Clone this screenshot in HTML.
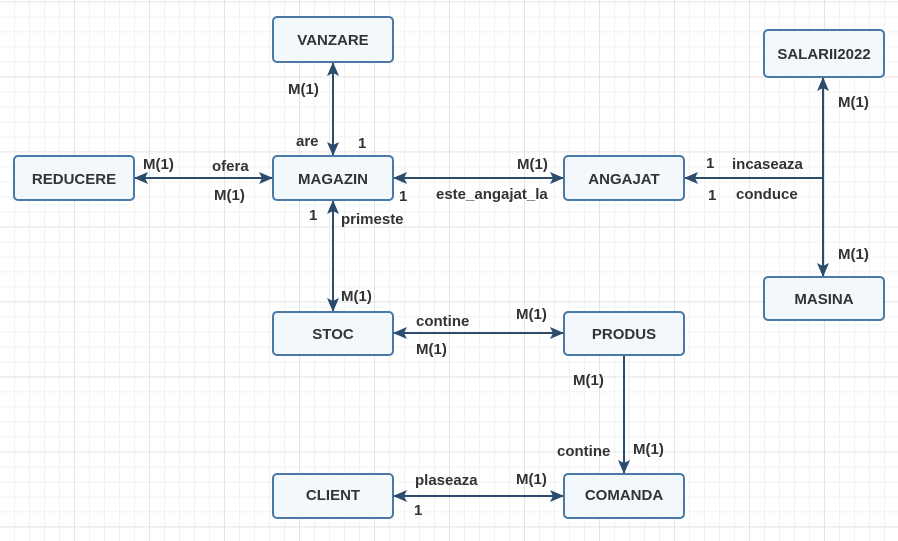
<!DOCTYPE html>
<html><head><meta charset="utf-8"><style>
html,body{margin:0;padding:0;background:#fff}
svg{display:block}
text{font-family:"Liberation Sans",sans-serif;font-weight:bold;font-size:15px;fill:#333}
</style></head><body>
<svg width="898" height="541" xmlns="http://www.w3.org/2000/svg">
<defs>
<pattern id="g" width="15" height="15" patternUnits="userSpaceOnUse" x="14.3" y="1.7">
<path d="M0 0V15M0 0H15" fill="none" stroke="#e6e6e6" stroke-width="1"/>
</pattern>
<pattern id="G" width="75" height="75" patternUnits="userSpaceOnUse" x="74.3" y="1.7">
<path d="M0 0V75M0 0H75" fill="none" stroke="#d4d4d4" stroke-width="1"/>
</pattern>
<marker id="a" viewBox="0 0 14 12" refX="13" refY="6" markerWidth="14" markerHeight="12" markerUnits="userSpaceOnUse" orient="auto-start-reverse">
<path d="M0 0L14 6L0 12L3 6Z" fill="#2b4c6c"/>
</marker>
</defs>
<rect width="898" height="541" fill="url(#g)"/>
<rect width="898" height="541" fill="url(#G)"/>
<g stroke="#2b4c6c" stroke-width="2" fill="none">
<line x1="333" y1="63" x2="333" y2="155" marker-start="url(#a)" marker-end="url(#a)"/>
<line x1="135" y1="178" x2="272" y2="178" marker-start="url(#a)" marker-end="url(#a)"/>
<line x1="394" y1="178" x2="563" y2="178" marker-start="url(#a)" marker-end="url(#a)"/>
<path d="M685 178H823" marker-start="url(#a)"/>
<line x1="823" y1="78" x2="823" y2="276" marker-start="url(#a)" marker-end="url(#a)"/>
<line x1="333" y1="201" x2="333" y2="311" marker-start="url(#a)" marker-end="url(#a)"/>
<line x1="394" y1="333" x2="563" y2="333" marker-start="url(#a)" marker-end="url(#a)"/>
<path d="M624 355V473" marker-end="url(#a)"/>
<line x1="394" y1="496" x2="563" y2="496" marker-start="url(#a)" marker-end="url(#a)"/>
</g>
<g fill="#f3f8fd" stroke="#4a79a6" stroke-width="2">
<rect x="273" y="17" width="120" height="45" rx="4"/>
<rect x="273" y="156" width="120" height="44" rx="4"/>
<rect x="14" y="156" width="120" height="44" rx="4"/>
<rect x="564" y="156" width="120" height="44" rx="4"/>
<rect x="764" y="30" width="120" height="47" rx="4"/>
<rect x="764" y="277" width="120" height="43" rx="4"/>
<rect x="273" y="312" width="120" height="43" rx="4"/>
<rect x="564" y="312" width="120" height="43" rx="4"/>
<rect x="273" y="474" width="120" height="44" rx="4"/>
<rect x="564" y="474" width="120" height="44" rx="4"/>
</g>
<g text-anchor="middle" style="font-size:17px">
<text x="333" y="45">VANZARE</text>
<text x="333" y="184">MAGAZIN</text>
<text x="74" y="184">REDUCERE</text>
<text x="624" y="184">ANGAJAT</text>
<text x="824" y="59">SALARII2022</text>
<text x="824" y="304">MASINA</text>
<text x="333" y="339">STOC</text>
<text x="624" y="339">PRODUS</text>
<text x="333" y="500">CLIENT</text>
<text x="624" y="500">COMANDA</text>
</g>
<g style="font-size:16px">
<text x="288" y="94">M(1)</text>
<text x="296" y="146">are</text>
<text x="358" y="148">1</text>
<text x="143" y="169">M(1)</text>
<text x="212" y="171">ofera</text>
<text x="214" y="200">M(1)</text>
<text x="517" y="169">M(1)</text>
<text x="399" y="201">1</text>
<text x="436" y="199">este_angajat_la</text>
<text x="706" y="168">1</text>
<text x="732" y="169">incaseaza</text>
<text x="708" y="200">1</text>
<text x="736" y="199">conduce</text>
<text x="838" y="107">M(1)</text>
<text x="838" y="259">M(1)</text>
<text x="309" y="220">1</text>
<text x="341" y="224">primeste</text>
<text x="341" y="301">M(1)</text>
<text x="416" y="326">contine</text>
<text x="516" y="319">M(1)</text>
<text x="416" y="354">M(1)</text>
<text x="573" y="385">M(1)</text>
<text x="557" y="456">contine</text>
<text x="633" y="454">M(1)</text>
<text x="415" y="485">plaseaza</text>
<text x="516" y="484">M(1)</text>
<text x="414" y="515">1</text>
</g>
</svg>
</body></html>
